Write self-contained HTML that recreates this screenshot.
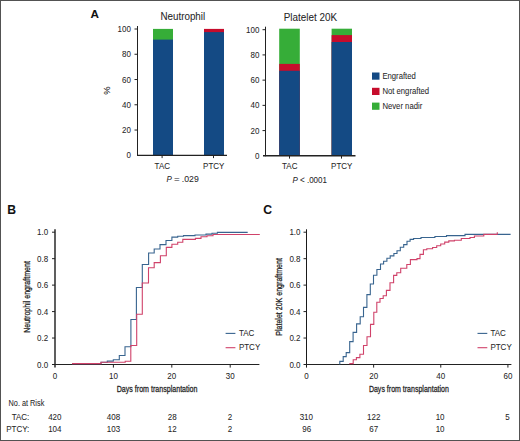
<!DOCTYPE html>
<html><head><meta charset="utf-8">
<style>
html,body{margin:0;padding:0;background:#fff;}
body{width:520px;height:441px;overflow:hidden;position:relative;}
svg{position:absolute;left:0;top:0;}
text{font-family:"Liberation Sans",sans-serif;stroke:#262626;stroke-width:0.05px;}
</style></head><body>
<svg width="520" height="441" viewBox="0 0 520 441">
<rect x="0.5" y="0.5" width="519" height="440" fill="#fff" stroke="#525252" stroke-width="1"/>
<text transform="translate(90.40 17.50)" font-size="11.7" font-weight="bold" fill="#111">A</text>
<text transform="translate(7.20 214.00)" font-size="12.2" font-weight="bold" fill="#111">B</text>
<text transform="translate(263.30 214.00)" font-size="12.2" font-weight="bold" fill="#111">C</text>
<text x="160.4" y="20.1" font-size="10.2" fill="#262626" textLength="44.8" lengthAdjust="spacingAndGlyphs">Neutrophil</text>
<rect x="153" y="28.9" width="20" height="126.4" fill="#36ad38"/>
<rect x="153" y="39.6" width="20" height="115.7" fill="#144a84"/>
<rect x="204" y="28.9" width="20" height="126.4" fill="#c60c2c"/>
<rect x="204" y="32.1" width="20" height="123.2" fill="#144a84"/>
<path d="M137.5 26.0V155.8" fill="none" stroke="#222" stroke-width="1"/>
<path d="M137.0 155.3H227.0" fill="none" stroke="#222" stroke-width="1.2"/>
<path d="M134.5 29.00H137.5M134.5 54.26H137.5M134.5 79.52H137.5M134.5 104.78H137.5M134.5 130.04H137.5" fill="none" stroke="#222" stroke-width="1"/>
<path d="M162.10 155.3V158.1M213.50 155.3V158.1" fill="none" stroke="#222" stroke-width="1"/>
<text transform="translate(130.90 32.00) scale(0.92 1)" font-size="8.7" text-anchor="end" fill="#262626">100</text>
<text transform="translate(130.90 57.26) scale(0.92 1)" font-size="8.7" text-anchor="end" fill="#262626">80</text>
<text transform="translate(130.90 82.52) scale(0.92 1)" font-size="8.7" text-anchor="end" fill="#262626">60</text>
<text transform="translate(130.90 107.78) scale(0.92 1)" font-size="8.7" text-anchor="end" fill="#262626">40</text>
<text transform="translate(130.90 133.04) scale(0.92 1)" font-size="8.7" text-anchor="end" fill="#262626">20</text>
<text transform="translate(130.90 158.30) scale(0.92 1)" font-size="8.7" text-anchor="end" fill="#262626">0</text>
<text transform="translate(162.30 169.40) scale(0.92 1)" font-size="8.7" text-anchor="middle" fill="#262626">TAC</text>
<text transform="translate(213.70 169.40) scale(0.92 1)" font-size="8.7" text-anchor="middle" fill="#262626">PTCY</text>
<text transform="translate(166.50 182.00) scale(0.92 1)" font-size="8.7" fill="#262626"><tspan font-style="italic">P</tspan></text>
<text transform="translate(174.00 182.00) scale(1.12 1)" font-size="8.7" fill="#262626">=</text>
<text transform="translate(181.80 182.00)" font-size="8.7" fill="#262626">.029</text>
<text x="283.7" y="20.6" font-size="10.2" fill="#262626" textLength="53.3" lengthAdjust="spacingAndGlyphs">Platelet 20K</text>
<rect x="279.2" y="28.7" width="20.6" height="127.1" fill="#36ad38"/>
<rect x="279.2" y="63.9" width="20.6" height="91.9" fill="#c60c2c"/>
<rect x="279.2" y="70.8" width="20.6" height="85.0" fill="#144a84"/>
<rect x="331.6" y="28.7" width="20.4" height="127.1" fill="#36ad38"/>
<rect x="331.6" y="35.1" width="20.4" height="120.7" fill="#c60c2c"/>
<rect x="331.6" y="42.0" width="20.4" height="113.8" fill="#144a84"/>
<path d="M265.5 26.7V156.3" fill="none" stroke="#222" stroke-width="1"/>
<path d="M263.0 155.8H355.5" fill="none" stroke="#222" stroke-width="1.4"/>
<path d="M262.5 29.70H265.5M262.5 54.92H265.5M262.5 80.14H265.5M262.5 105.36H265.5M262.5 130.58H265.5" fill="none" stroke="#222" stroke-width="1"/>
<path d="M289.50 155.8V158.6M341.50 155.8V158.6" fill="none" stroke="#222" stroke-width="1"/>
<text transform="translate(259.40 32.70) scale(0.92 1)" font-size="8.7" text-anchor="end" fill="#262626">100</text>
<text transform="translate(259.40 57.92) scale(0.92 1)" font-size="8.7" text-anchor="end" fill="#262626">80</text>
<text transform="translate(259.40 83.14) scale(0.92 1)" font-size="8.7" text-anchor="end" fill="#262626">60</text>
<text transform="translate(259.40 108.36) scale(0.92 1)" font-size="8.7" text-anchor="end" fill="#262626">40</text>
<text transform="translate(259.40 133.58) scale(0.92 1)" font-size="8.7" text-anchor="end" fill="#262626">20</text>
<text transform="translate(259.40 158.80) scale(0.92 1)" font-size="8.7" text-anchor="end" fill="#262626">0</text>
<text transform="translate(289.70 169.40) scale(0.92 1)" font-size="8.7" text-anchor="middle" fill="#262626">TAC</text>
<text transform="translate(341.70 169.40) scale(0.92 1)" font-size="8.7" text-anchor="middle" fill="#262626">PTCY</text>
<text transform="translate(292.50 182.70) scale(0.92 1)" font-size="8.7" fill="#262626"><tspan font-style="italic">P</tspan> &lt; .0001</text>
<text transform="translate(110.40 90.60) rotate(-90)" font-size="9.4" text-anchor="middle" fill="#262626">%</text>
<rect x="372" y="72.5" width="7.5" height="7.2" fill="#144a84"/>
<text transform="translate(382.40 79.00) scale(0.93 1)" font-size="8.3" fill="#262626">Engrafted</text>
<rect x="372" y="87.8" width="7.5" height="7.2" fill="#c60c2c"/>
<text transform="translate(382.40 94.10) scale(0.93 1)" font-size="8.3" fill="#262626">Not engrafted</text>
<rect x="372" y="102.6" width="7.5" height="7.2" fill="#36ad38"/>
<text transform="translate(382.40 108.80) scale(0.93 1)" font-size="8.3" fill="#262626">Never nadir</text>
<path d="M55 229.3V367.6" fill="none" stroke="#1a1a1a" stroke-width="1.4"/>
<path d="M52 364.5H259.4" fill="none" stroke="#222" stroke-width="1"/>
<path d="M52 232.20H55M52 258.66H55M52 285.12H55M52 311.58H55M52 338.04H55" fill="none" stroke="#222" stroke-width="1"/>
<path d="M113.40 364.5V367.6M171.80 364.5V367.6M230.20 364.5V367.6" fill="none" stroke="#222" stroke-width="1"/>
<text transform="translate(48.20 235.20) scale(0.92 1)" font-size="8.7" text-anchor="end" fill="#262626">1.0</text>
<text transform="translate(48.20 261.66) scale(0.92 1)" font-size="8.7" text-anchor="end" fill="#262626">0.8</text>
<text transform="translate(48.20 288.12) scale(0.92 1)" font-size="8.7" text-anchor="end" fill="#262626">0.6</text>
<text transform="translate(48.20 314.58) scale(0.92 1)" font-size="8.7" text-anchor="end" fill="#262626">0.4</text>
<text transform="translate(48.20 341.04) scale(0.92 1)" font-size="8.7" text-anchor="end" fill="#262626">0.2</text>
<text transform="translate(48.20 367.50) scale(0.92 1)" font-size="8.7" text-anchor="end" fill="#262626">0.0</text>
<text transform="translate(55.00 378.70) scale(0.92 1)" font-size="8.7" text-anchor="middle" fill="#262626">0</text>
<text transform="translate(113.40 378.70) scale(0.92 1)" font-size="8.7" text-anchor="middle" fill="#262626">10</text>
<text transform="translate(171.80 378.70) scale(0.92 1)" font-size="8.7" text-anchor="middle" fill="#262626">20</text>
<text transform="translate(230.20 378.70) scale(0.92 1)" font-size="8.7" text-anchor="middle" fill="#262626">30</text>
<text transform="translate(30.4 297.0) rotate(-90)" text-anchor="middle" font-size="9.8" fill="#262626" style="stroke-width:0.3px" textLength="71.7" lengthAdjust="spacingAndGlyphs">Neutrophil engraftment</text>
<text x="116.7" y="392.0" font-size="9.9" fill="#262626" style="stroke-width:0.3px" textLength="80.8" lengthAdjust="spacingAndGlyphs">Days from transplantation</text>
<path d="M306.5 229.3V367.6" fill="none" stroke="#1a1a1a" stroke-width="1"/>
<path d="M303.5 364.5H511.4" fill="none" stroke="#222" stroke-width="1"/>
<path d="M303.5 232.20H306.5M303.5 258.66H306.5M303.5 285.12H306.5M303.5 311.58H306.5M303.5 338.04H306.5" fill="none" stroke="#222" stroke-width="1"/>
<path d="M373.64 364.5V367.6M440.78 364.5V367.6M507.92 364.5V367.6" fill="none" stroke="#222" stroke-width="1"/>
<text transform="translate(300.50 235.20) scale(0.92 1)" font-size="8.7" text-anchor="end" fill="#262626">1.0</text>
<text transform="translate(300.50 261.66) scale(0.92 1)" font-size="8.7" text-anchor="end" fill="#262626">0.8</text>
<text transform="translate(300.50 288.12) scale(0.92 1)" font-size="8.7" text-anchor="end" fill="#262626">0.6</text>
<text transform="translate(300.50 314.58) scale(0.92 1)" font-size="8.7" text-anchor="end" fill="#262626">0.4</text>
<text transform="translate(300.50 341.04) scale(0.92 1)" font-size="8.7" text-anchor="end" fill="#262626">0.2</text>
<text transform="translate(300.50 367.50) scale(0.92 1)" font-size="8.7" text-anchor="end" fill="#262626">0.0</text>
<text transform="translate(306.50 378.70) scale(0.92 1)" font-size="8.7" text-anchor="middle" fill="#262626">0</text>
<text transform="translate(373.64 378.70) scale(0.92 1)" font-size="8.7" text-anchor="middle" fill="#262626">20</text>
<text transform="translate(440.78 378.70) scale(0.92 1)" font-size="8.7" text-anchor="middle" fill="#262626">40</text>
<text transform="translate(507.92 378.70) scale(0.92 1)" font-size="8.7" text-anchor="middle" fill="#262626">60</text>
<text transform="translate(281.9 296.9) rotate(-90)" text-anchor="middle" font-size="9.8" fill="#262626" style="stroke-width:0.3px" textLength="77.6" lengthAdjust="spacingAndGlyphs">Platelet 20K engraftment</text>
<text x="368.9" y="392.0" font-size="9.9" fill="#262626" style="stroke-width:0.3px" textLength="80" lengthAdjust="spacingAndGlyphs">Days from transplantation</text>
<path d="M72 363.6H101V362.3H107.3V361.1H113.3V359.8H119.3V355.5H125V346.8H130.9V319.5H136.4V287.5H142.3V264.5H148.6V253H154.2V249H160V244.6H166V240.5H171.9V237.1H177.7V236.3H183.5V235.6H195V235H206V234.1H212V233.2H217.4V232.4H247.7" fill="none" stroke="#38648f" stroke-width="1.1"/>
<path d="M72 363.6H101V362.3H125.2V361.3H130.8V345.5H136.7V314.2H142.3V283H148.5V267.8H154.2V262.6H160.4V255.7H166.3V247.4H171.9V244.2H177.7V242.3H182.8V239.4H195.4V238.4H201V236.7H207V235.8H213V234.5H259.8" fill="none" stroke="#d0426a" stroke-width="1.1"/>
<path d="M339.8 364.5V361.4H343.2V356.6H346.2V352.6H349.7V341.6H353.1V332.4H356.6V323.9H360.2V316.7H363.5V307.4H366.9V294.6H370.3V284H373.5V275.3H376.9V269.5H380.5V264H383.6V261.2H386.9V258.3H390.2V255.9H393.9V253.5H397V250.8H400.3V247.3H403.7V244.6H407V241.2H410.1V239.4H413.6V238.5H421V237.5H434.9V236.5H446.5V235.6H465V234.4H510.6" fill="none" stroke="#38648f" stroke-width="1.1"/>
<path d="M349.3 363.6H353.2V359.7H356.4V357.6H359.9V354.3H363.5V345.5H367V336.7H370.5V324.4H373.8V312.2H376.8V302.2H380V298.5H383.2V295.8H386.4V290.4H390V282.8H393.6V275.4H396.8V272.7H400.7V268.2H406.8V264.5H410.4V259.6H417V258.6H420V254.4H423.4V249.8H426.8V248.7H432.6V247.5H436.7V245.8H440.7V244H444.7V242.1H448.8V240.9H454.4V240.2H461.3V238.5H470V237.5H474.4V236H483.8V234.4H497.3M497.3 234.4V232.2" fill="none" stroke="#d0426a" stroke-width="1.1"/>
<path d="M225.6 333.4H235.4" fill="none" stroke="#38648f" stroke-width="1.1"/>
<path d="M225.6 347.7H235.4" fill="none" stroke="#d0426a" stroke-width="1.1"/>
<text transform="translate(238.90 336.10) scale(0.92 1)" font-size="8.7" fill="#262626">TAC</text>
<text transform="translate(238.90 350.20) scale(0.92 1)" font-size="8.7" fill="#262626">PTCY</text>
<path d="M477.5 333.4H487.3" fill="none" stroke="#38648f" stroke-width="1.1"/>
<path d="M477.5 347.7H487.3" fill="none" stroke="#d0426a" stroke-width="1.1"/>
<text transform="translate(490.40 336.10) scale(0.92 1)" font-size="8.7" fill="#262626">TAC</text>
<text transform="translate(490.40 350.20) scale(0.92 1)" font-size="8.7" fill="#262626">PTCY</text>
<text transform="translate(8.60 405.60) scale(0.87 1)" font-size="8.4" fill="#262626">No. at Risk</text>
<text transform="translate(29.30 419.70) scale(0.92 1)" font-size="8.7" text-anchor="end" fill="#262626">TAC:</text>
<text transform="translate(29.30 431.90) scale(0.92 1)" font-size="8.7" text-anchor="end" fill="#262626">PTCY:</text>
<text transform="translate(54.80 419.70) scale(0.92 1)" font-size="8.7" text-anchor="middle" fill="#262626">420</text>
<text transform="translate(113.50 419.70) scale(0.92 1)" font-size="8.7" text-anchor="middle" fill="#262626">408</text>
<text transform="translate(172.20 419.70) scale(0.92 1)" font-size="8.7" text-anchor="middle" fill="#262626">28</text>
<text transform="translate(229.90 419.70) scale(0.92 1)" font-size="8.7" text-anchor="middle" fill="#262626">2</text>
<text transform="translate(306.30 419.70) scale(0.92 1)" font-size="8.7" text-anchor="middle" fill="#262626">310</text>
<text transform="translate(373.70 419.70) scale(0.92 1)" font-size="8.7" text-anchor="middle" fill="#262626">122</text>
<text transform="translate(440.10 419.70) scale(0.92 1)" font-size="8.7" text-anchor="middle" fill="#262626">10</text>
<text transform="translate(507.50 419.70) scale(0.92 1)" font-size="8.7" text-anchor="middle" fill="#262626">5</text>
<text transform="translate(54.80 431.90) scale(0.92 1)" font-size="8.7" text-anchor="middle" fill="#262626">104</text>
<text transform="translate(113.50 431.90) scale(0.92 1)" font-size="8.7" text-anchor="middle" fill="#262626">103</text>
<text transform="translate(172.20 431.90) scale(0.92 1)" font-size="8.7" text-anchor="middle" fill="#262626">12</text>
<text transform="translate(229.90 431.90) scale(0.92 1)" font-size="8.7" text-anchor="middle" fill="#262626">2</text>
<text transform="translate(306.80 431.90) scale(0.92 1)" font-size="8.7" text-anchor="middle" fill="#262626">96</text>
<text transform="translate(373.70 431.90) scale(0.92 1)" font-size="8.7" text-anchor="middle" fill="#262626">67</text>
<text transform="translate(440.10 431.90) scale(0.92 1)" font-size="8.7" text-anchor="middle" fill="#262626">10</text>
</svg>
</body></html>
